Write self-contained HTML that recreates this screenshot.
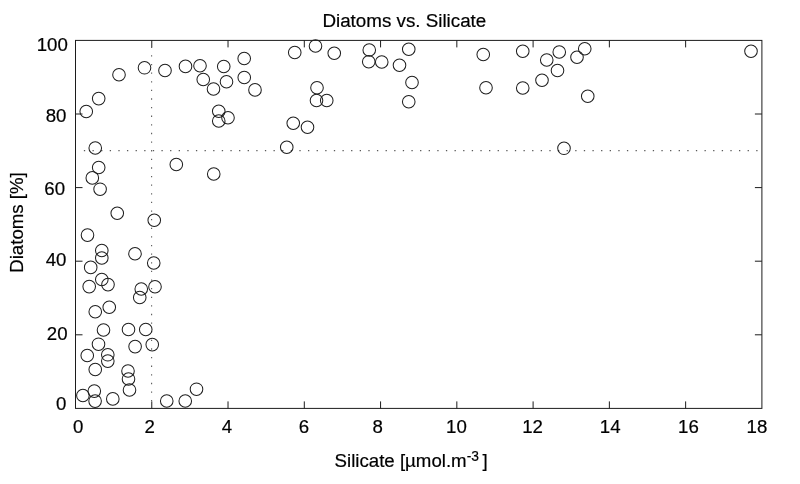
<!DOCTYPE html>
<html><head><meta charset="utf-8"><title>Diatoms vs. Silicate</title>
<style>html,body{margin:0;padding:0;background:#fff;overflow:hidden}svg{display:block}</style></head>
<body><svg width="800" height="484" viewBox="0 0 800 484">
<rect width="800" height="484" fill="#fff"/>
<rect x="75.5" y="40.4" width="686.40" height="368.00" fill="none" stroke="#1c1c1c" stroke-width="1"/>
<path d="M151.77 408.4v-7M151.77 40.4v7M228.03 408.4v-7M228.03 40.4v7M304.30 408.4v-7M304.30 40.4v7M380.57 408.4v-7M380.57 40.4v7M456.83 408.4v-7M456.83 40.4v7M533.10 408.4v-7M533.10 40.4v7M609.37 408.4v-7M609.37 40.4v7M685.63 408.4v-7M685.63 40.4v7M75.5 334.80h7M761.9 334.80h-7M75.5 261.20h7M761.9 261.20h-7M75.5 187.60h7M761.9 187.60h-7M75.5 114.00h7M761.9 114.00h-7" fill="none" stroke="#1c1c1c" stroke-width="1"/>
<path d="M151.60 46.65V401.4" fill="none" stroke="#5a5a5a" stroke-width="1.1" stroke-dasharray="1.3 7.319999999999999"/>
<path d="M83.87 150.60H760.9" fill="none" stroke="#5a5a5a" stroke-width="1.1" stroke-dasharray="1.3 7.319999999999999"/>
<g fill="none" stroke="#1e1e1e" stroke-width="1.02"><circle cx="86.25" cy="111.5" r="6.3"/><circle cx="98.7" cy="98.6" r="6.3"/><circle cx="119" cy="74.75" r="6.3"/><circle cx="144.5" cy="67.8" r="6.3"/><circle cx="165" cy="70.5" r="6.3"/><circle cx="185.5" cy="66.4" r="6.3"/><circle cx="200" cy="65.75" r="6.3"/><circle cx="203.25" cy="79.5" r="6.3"/><circle cx="213.5" cy="89" r="6.3"/><circle cx="223.75" cy="66.5" r="6.3"/><circle cx="226.5" cy="81.75" r="6.3"/><circle cx="244.2" cy="58.5" r="6.3"/><circle cx="244.25" cy="77.5" r="6.3"/><circle cx="255" cy="89.9" r="6.3"/><circle cx="218.75" cy="111.25" r="6.3"/><circle cx="228" cy="117.75" r="6.3"/><circle cx="218.75" cy="121" r="6.3"/><circle cx="95.25" cy="148" r="6.3"/><circle cx="294.75" cy="52.5" r="6.3"/><circle cx="315.5" cy="46" r="6.3"/><circle cx="334.25" cy="53.25" r="6.3"/><circle cx="317" cy="87.75" r="6.3"/><circle cx="316.5" cy="100.5" r="6.3"/><circle cx="326.75" cy="100.5" r="6.3"/><circle cx="293.25" cy="123.25" r="6.3"/><circle cx="307.5" cy="127.25" r="6.3"/><circle cx="286.75" cy="147.25" r="6.3"/><circle cx="369.25" cy="50" r="6.3"/><circle cx="368.75" cy="61.75" r="6.3"/><circle cx="381.75" cy="62" r="6.3"/><circle cx="399.5" cy="65.25" r="6.3"/><circle cx="408.75" cy="49.25" r="6.3"/><circle cx="412" cy="82.5" r="6.3"/><circle cx="408.75" cy="101.75" r="6.3"/><circle cx="483.25" cy="54.5" r="6.3"/><circle cx="486" cy="87.75" r="6.3"/><circle cx="522.75" cy="51.25" r="6.3"/><circle cx="522.75" cy="88" r="6.3"/><circle cx="546.75" cy="60" r="6.3"/><circle cx="559.25" cy="52" r="6.3"/><circle cx="557.5" cy="70.5" r="6.3"/><circle cx="542" cy="80.25" r="6.3"/><circle cx="577" cy="57.25" r="6.3"/><circle cx="584.75" cy="48.75" r="6.3"/><circle cx="587.75" cy="96.25" r="6.3"/><circle cx="564" cy="148.3" r="6.3"/><circle cx="751" cy="51.25" r="6.3"/><circle cx="98.7" cy="167.5" r="6.3"/><circle cx="92.3" cy="177.9" r="6.3"/><circle cx="100.1" cy="189.2" r="6.3"/><circle cx="176.3" cy="164.5" r="6.3"/><circle cx="213.75" cy="174" r="6.3"/><circle cx="117.25" cy="213.25" r="6.3"/><circle cx="154.25" cy="220.25" r="6.3"/><circle cx="87.5" cy="235.1" r="6.3"/><circle cx="101.8" cy="250.5" r="6.3"/><circle cx="135" cy="253.75" r="6.3"/><circle cx="101.8" cy="258" r="6.3"/><circle cx="153.75" cy="263" r="6.3"/><circle cx="90.7" cy="267.4" r="6.3"/><circle cx="101.8" cy="279.5" r="6.3"/><circle cx="108" cy="284.6" r="6.3"/><circle cx="89.2" cy="286.6" r="6.3"/><circle cx="141.25" cy="289" r="6.3"/><circle cx="155" cy="286.75" r="6.3"/><circle cx="139.75" cy="297.5" r="6.3"/><circle cx="109.25" cy="307.25" r="6.3"/><circle cx="95.25" cy="311.75" r="6.3"/><circle cx="103.5" cy="330" r="6.3"/><circle cx="128.5" cy="329.5" r="6.3"/><circle cx="145.75" cy="329.5" r="6.3"/><circle cx="98.5" cy="344.2" r="6.3"/><circle cx="135.1" cy="346.6" r="6.3"/><circle cx="152.25" cy="344.6" r="6.3"/><circle cx="87.25" cy="355.5" r="6.3"/><circle cx="107.8" cy="354.8" r="6.3"/><circle cx="107.8" cy="361.1" r="6.3"/><circle cx="95.25" cy="369.5" r="6.3"/><circle cx="128" cy="371" r="6.3"/><circle cx="128.5" cy="379" r="6.3"/><circle cx="129.5" cy="390" r="6.3"/><circle cx="94.3" cy="391.1" r="6.3"/><circle cx="82.9" cy="395.5" r="6.3"/><circle cx="95.1" cy="401.1" r="6.3"/><circle cx="112.8" cy="398.9" r="6.3"/><circle cx="166.75" cy="401" r="6.3"/><circle cx="185.25" cy="401" r="6.3"/><circle cx="196.5" cy="389.2" r="6.3"/></g>
<g font-family="'Liberation Sans', Arial, Helvetica, sans-serif" font-size="18.67px" fill="#000" stroke="#000" stroke-width="0.2">
<text x="322.4" y="27.0" font-size="18.8px">Diatoms vs. Silicate</text>
<text x="334.6" y="467.0">Silicate [µmol.m<tspan font-size="13.8px" dy="-5.9">-3</tspan><tspan dy="5.9" dx="-1.5"> ]</tspan></text>
<text transform="translate(23.3 272.8) rotate(-90)">Diatoms [%]</text>
<text x="73.0" y="433.2">0</text>
<text x="144.5" y="433.2">2</text>
<text x="221.8" y="433.2">4</text>
<text x="298.8" y="433.2">6</text>
<text x="372.5" y="433.2">8</text>
<text x="446.0" y="433.2">10</text>
<text x="522.2" y="433.2">12</text>
<text x="599.8" y="433.2">14</text>
<text x="678.0" y="433.2">16</text>
<text x="746.5" y="433.2">18</text>
<text x="67.8" y="50.7" text-anchor="end">100</text>
<text x="66.4" y="122" text-anchor="end">80</text>
<text x="65.1" y="195" text-anchor="end">60</text>
<text x="66.5" y="266.3" text-anchor="end">40</text>
<text x="67.6" y="340" text-anchor="end">20</text>
<text x="66.3" y="410.0" text-anchor="end">0</text>
</g>
</svg></body></html>
